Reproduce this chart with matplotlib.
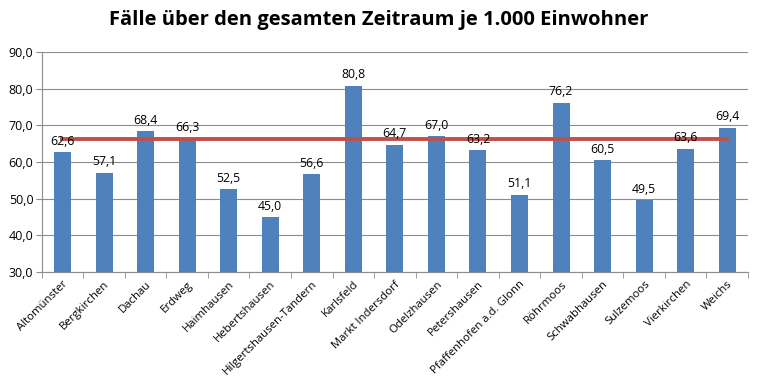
import matplotlib
matplotlib.use("Agg")
import matplotlib.pyplot as plt
import numpy as np

categories = ["Altomünster", "Bergkirchen", "Dachau", "Erdweg", "Haimhausen",
              "Hebertshausen", "Hilgertshausen-Tandern", "Karlsfeld", "Markt Indersdorf",
              "Odelzhausen", "Petershausen", "Pfaffenhofen a.d. Glonn", "Röhrmoos",
              "Schwabhausen", "Sulzemoos", "Vierkirchen", "Weichs"]
values = [62.6, 57.1, 68.4, 66.3, 52.5, 45.0, 56.6, 80.8, 64.7,
          67.0, 63.2, 51.1, 76.2, 60.5, 49.5, 63.6, 69.4]
average = 66.3
title = "Fälle über den gesamten Zeitraum je 1.000 Einwohner"

plt.rcParams['font.family'] = ['Open Sans', 'DejaVu Sans']

fig = plt.figure(figsize=(7.57, 3.86), dpi=100)
ax = fig.add_axes([41.7/757, 1-272/386, (748-41.7)/757, 220/386])

x = np.arange(len(categories))
ax.bar(x, values, width=0.41, color="#4F81BD", zorder=2)
ax.plot([x[0], x[-1]], [average, average], color="#C0504D", lw=2.8, zorder=3)

for xi, v in zip(x, values):
    ax.text(xi, v + 1.2, f"{v:.1f}".replace(".", ","), ha="center", va="bottom",
            fontsize=8.8, color="black", zorder=4)

ax.set_xlim(-0.5, len(categories) - 0.5)
ax.set_ylim(30, 90)
yt = np.arange(30, 91, 10)
ax.set_yticks(yt)
ax.set_yticklabels([f"{t:.1f}".replace(".", ",") for t in yt], fontsize=9)
ax.yaxis.grid(True, color="#8C8C8C", lw=0.8, zorder=0)
ax.set_axisbelow(True)

ax.set_xticks(x)
ax.set_xticklabels(categories, rotation=45, ha="right", rotation_mode="anchor", fontsize=8.2)
ax.tick_params(axis="x", length=0, pad=5)
ax.set_xticks(np.arange(-0.5, len(categories), 1), minor=True)
ax.tick_params(axis="x", which="minor", length=4, direction="out", color="#8C8C8C")
ax.tick_params(axis="y", length=4, direction="out", color="#8C8C8C", pad=2)

for s in ["top", "right"]:
    ax.spines[s].set_visible(False)
for s in ["left", "bottom"]:
    ax.spines[s].set_color("#8C8C8C")

fig.text(0.5, 1 - 20/386, title, ha="center", va="center", fontsize=14.5, fontweight="bold")

fig.savefig("out.png", dpi=100)
